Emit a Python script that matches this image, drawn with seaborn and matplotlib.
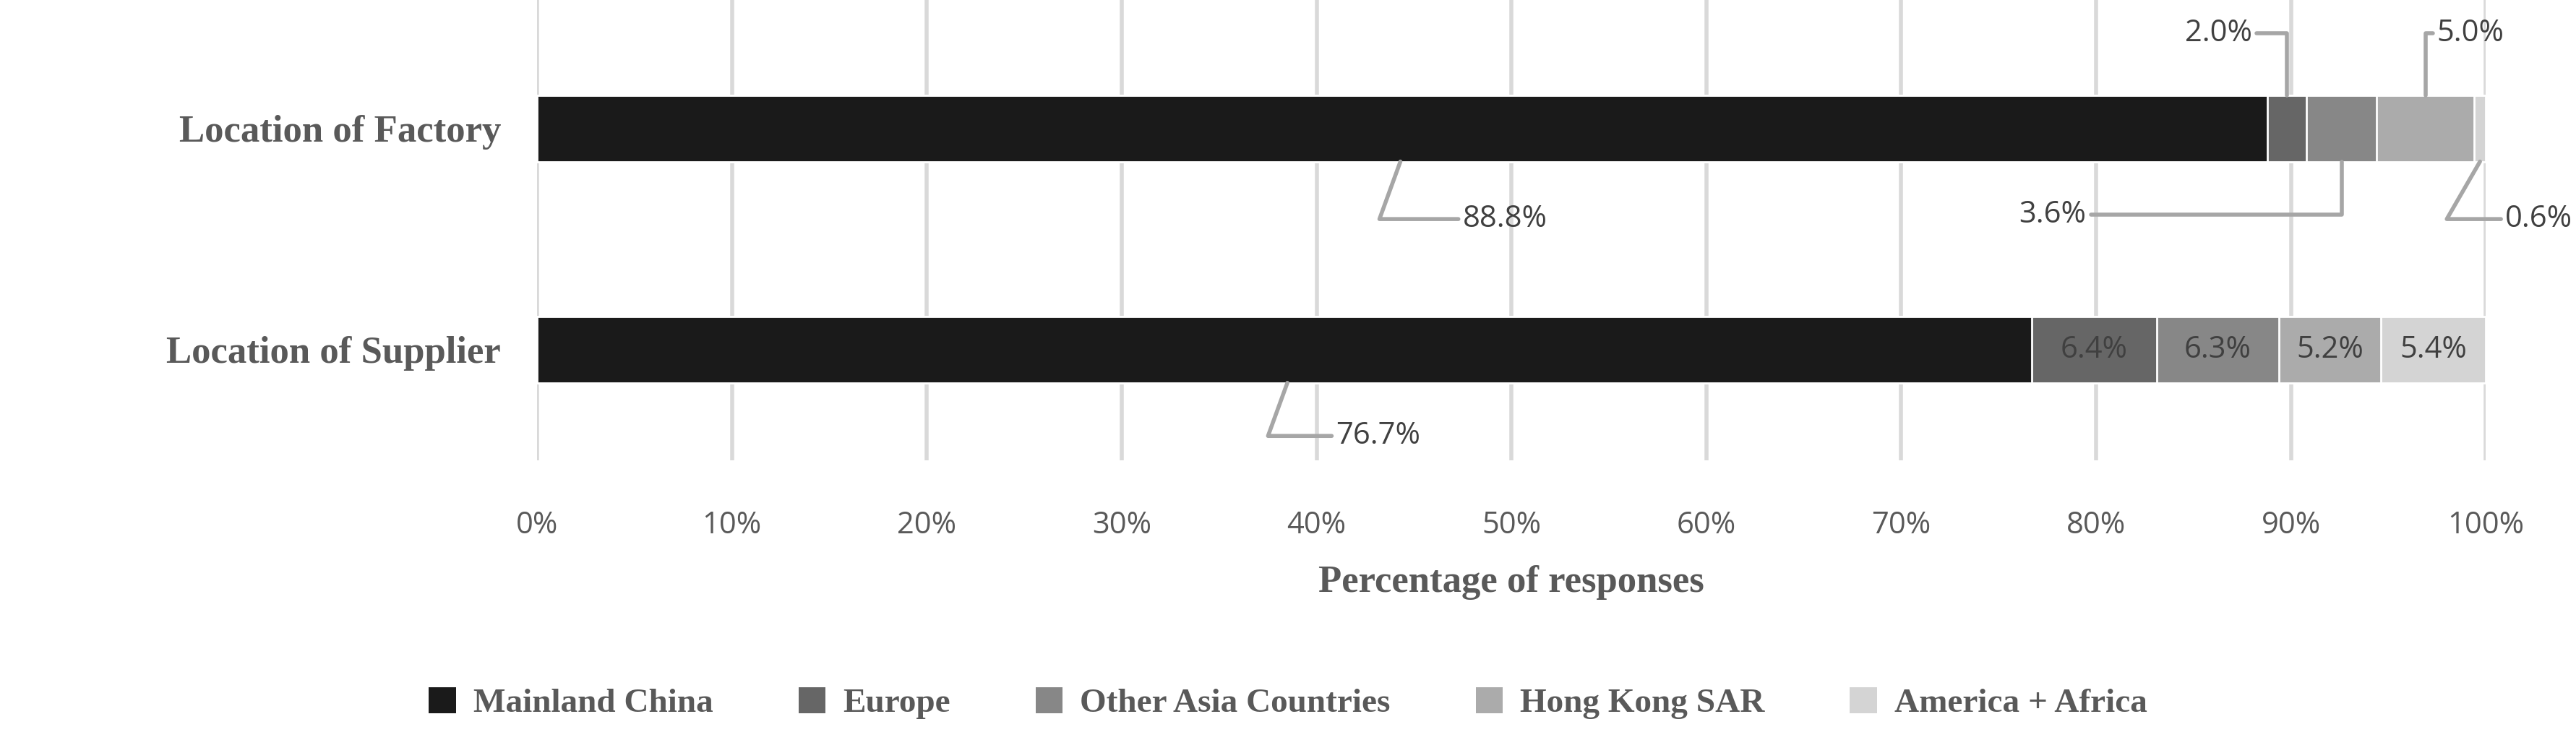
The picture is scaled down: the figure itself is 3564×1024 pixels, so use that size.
import numpy as np
import pandas as pd
import matplotlib.pyplot as plt
import seaborn as sns
from matplotlib.patches import Patch

rows = ["Location of Factory", "Location of Supplier"]
segments = ["Mainland China", "Europe", "Other Asia Countries", "Hong Kong SAR", "America + Africa"]
factory = [88.8, 2.0, 3.6, 5.0, 0.6]
supplier = [76.7, 6.4, 6.3, 5.2, 5.4]
colors = ["#1a1a1a", "#666666", "#878787", "#ababab", "#d4d4d4"]
ticks = list(range(0, 101, 10))

sns.set_theme(style="white")
serif = ["Liberation Serif", "DejaVu Serif"]
sans = ["Open Sans", "DejaVu Sans"]
grey = "#595959"

vals = np.array([factory, supplier])
cum = np.cumsum(vals, axis=1)

fig = plt.figure(figsize=(17.82, 5.12), dpi=200)
ax = fig.add_axes([0.2085, 0.378, 0.7565, 0.622])

for i in range(len(segments) - 1, -1, -1):
    df = pd.DataFrame({"row": rows, "val": cum[:, i]})
    sns.barplot(data=df, x="val", y="row", color=colors[i], orient="h",
                width=0.3, ax=ax, saturation=1, zorder=3)

ax.set_xlim(0, 100)
ax.set_ylim(1.5, -0.58)
ax.set_xticks(ticks)
ax.set_xticklabels([f"{t}%" for t in ticks], fontsize=15, color=grey, family=sans)
ax.tick_params(axis="x", pad=25, length=0)
ax.tick_params(axis="y", length=0, pad=18)
ax.set_yticks([0, 1])
ax.set_yticklabels(rows, fontsize=19, fontweight="bold", color=grey, family=serif)
ax.grid(axis="x", color="#d9d9d9", linewidth=2, zorder=0)
for s in ax.spines.values():
    s.set_visible(False)
ax.set_ylabel("")
ax.set_xlabel("Percentage of responses", fontsize=19, fontweight="bold", color=grey,
              family=serif, labelpad=12)

# labels inside supplier segments
for i in range(1, len(segments)):
    c = cum[1, i] - vals[1, i] / 2
    ax.text(c, 1, f"{vals[1, i]:.1f}%", ha="center", va="center", fontsize=15,
            color="#404040", family=sans, zorder=4)

line = dict(arrowstyle="-", color="#a6a6a6", lw=2, shrinkA=0, shrinkB=0)
txt = dict(fontsize=15, color="#404040", family=sans, va="center")

def callout(label, xy, xytext, ha, cs):
    ax.annotate(label, xy=xy, xytext=xytext, ha=ha,
                arrowprops=dict(connectionstyle=cs, **line), zorder=5, **txt)

callout(f"{factory[0]:.1f}%", (44.3, 0.15), (47.5, 0.41), "left", "angle,angleA=0,angleB=70,rad=0")
callout(f"{factory[1]:.1f}%", (cum[0, 1] - factory[1] / 2, -0.15), (88.0, -0.43), "right",
        "angle,angleA=0,angleB=90,rad=0")
callout(f"{factory[3]:.1f}%", (cum[0, 3] - factory[3] / 2, -0.15), (97.5, -0.43), "left",
        "angle,angleA=0,angleB=90,rad=0")
callout(f"{factory[2]:.1f}%", (cum[0, 2] - factory[2] / 2, 0.15), (79.5, 0.39), "right",
        "angle,angleA=0,angleB=90,rad=0")
callout(f"{factory[4]:.1f}%", (cum[0, 4] - factory[4] / 2, 0.15), (101.0, 0.41), "left",
        "angle,angleA=0,angleB=60,rad=0")
callout(f"{supplier[0]:.1f}%", (38.5, 1.15), (41.0, 1.39), "left",
        "angle,angleA=0,angleB=70,rad=0")

handles = [Patch(facecolor=c, edgecolor="none") for c in colors]
leg = fig.legend(handles, segments, loc="center", bbox_to_anchor=(0.5, 0.05), ncol=5,
                 frameon=False, handlelength=0.8, handleheight=0.8, columnspacing=2.5,
                 handletextpad=0.5,
                 prop={"family": serif, "weight": "bold", "size": 17})
for t in leg.get_texts():
    t.set_color(grey)

fig.savefig("out.png", dpi=200)
